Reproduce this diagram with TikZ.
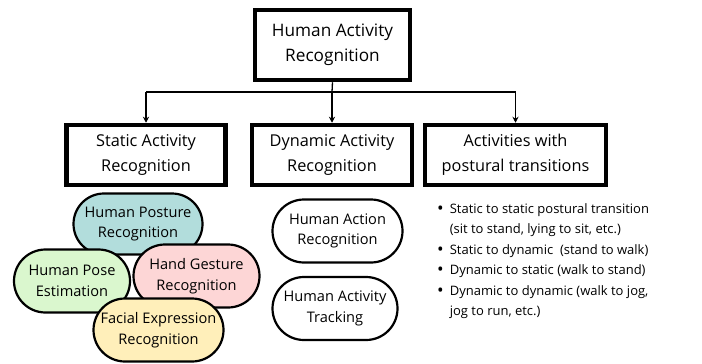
\documentclass[tikz,border=0pt]{standalone}
\usepackage{fontspec}
\setmainfont{Open Sans}
\usetikzlibrary{arrows.meta,shapes.misc}
\definecolor{cpost}{RGB}{178,221,220}
\definecolor{cpose}{RGB}{218,247,206}
\definecolor{chand}{RGB}{253,214,214}
\definecolor{cface}{RGB}{255,239,186}
\newcommand{\bul}{\raisebox{-1.3pt}{\scalebox{1.35}{\textbullet}}}
\tikzset{
  bigbox/.style={draw, line width=4.5pt, fill=white, align=center, inner sep=0pt, font=\fontsize{16.3}{25}\selectfont},
  pill/.style={draw, line width=2.2pt, rounded rectangle, align=center, inner sep=0pt, font=\fontsize{14.6}{20.5}\selectfont},
  conn/.style={line width=1.3pt, -{Stealth[length=6pt,width=6pt]}},
}
\begin{document}
\begin{tikzpicture}[x=1pt,y=-1pt]
\useasboundingbox (0,0) rectangle (702,364);
% top
\node[bigbox, minimum width=155pt, minimum height=70pt, font=\fontsize{17.2}{25}\selectfont] (har) at (332.5,45) {Human Activity\\Recognition};
\node[bigbox, minimum width=159pt, minimum height=60pt] (sar) at (146,155) {Static Activity\\Recognition};
\node[bigbox, minimum width=160pt, minimum height=60pt] (dar) at (332,155) {Dynamic Activity\\Recognition};
\node[bigbox, minimum width=181pt, minimum height=60pt] (apt) at (515.5,155) {Activities with\\postural transitions};
\coordinate (j) at (332,92);
\coordinate (jl) at (146,92);
\coordinate (jr) at (515.5,92);
\draw[line width=1.3pt] (har.south) -- (j);
\draw[line width=1.3pt] (jl) -- (jr);
\draw[conn] (jl) -- (sar.north);
\draw[conn] (j) -- (dar.north);
\draw[conn] (jr) -- (apt.north);
% static pills
\node[pill, fill=cpost, minimum width=129pt, minimum height=61pt] (post) at (138,224) {Human Posture\\Recognition};
\node[pill, fill=cpose, minimum width=116pt, minimum height=63pt] (pose) at (72,281) {Human Pose\\Estimation};
\node[pill, fill=chand, minimum width=126pt, minimum height=63pt] (hand) at (196.5,276) {Hand Gesture\\Recognition};
\node[pill, fill=cface, minimum width=130pt, minimum height=63pt] (face) at (158.5,330) {Facial Expression\\Recognition};
% dynamic pills
\node[pill, fill=white, minimum width=130pt, minimum height=63pt] (act) at (337.5,231) {Human Action\\Recognition};
\node[pill, fill=white, minimum width=125pt, minimum height=63pt] (trk) at (335,308.5) {Human Activity\\Tracking};
% bullets
\node[anchor=north west, align=left, inner sep=0pt, font=\fontsize{13.0}{20.4}\selectfont] (list) at (437,199) {%
\begin{tabular}{@{}l@{\hspace{6pt}}l@{}}
\bul & Static to static postural transition\\
 & (sit to stand, lying to sit, etc.)\\
\bul & Static to dynamic \ (stand to walk)\\
\bul & Dynamic to static (walk to stand)\\
\bul & Dynamic to dynamic (walk to jog,\\
 & jog to run, etc.)
\end{tabular}};
\end{tikzpicture}
\end{document}
